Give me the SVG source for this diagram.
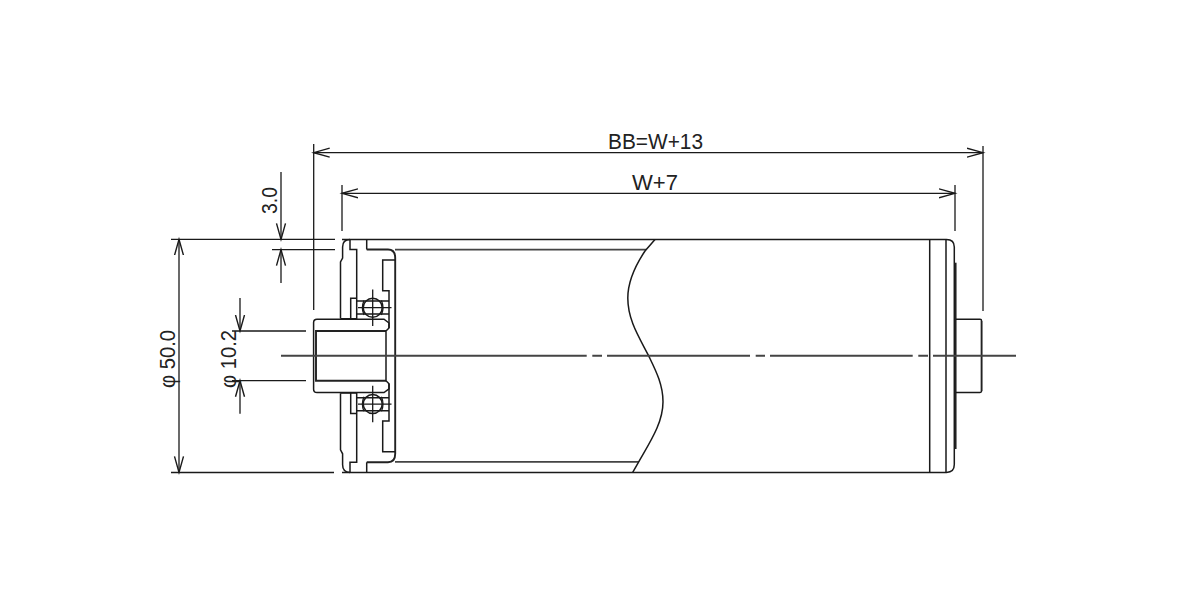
<svg xmlns="http://www.w3.org/2000/svg" width="1200" height="600" viewBox="0 0 1200 600">
<style>
.l{fill:none;stroke:#1a1a1a;stroke-width:1.5}
.h{fill:none;stroke:#222;stroke-width:1.9}
.c{fill:none;stroke:#444;stroke-width:1.9}
.d{fill:none;stroke:#1a1a1a;stroke-width:1.3}
text{font-family:"Liberation Sans",Arial,sans-serif;font-size:22px;fill:#222}
</style>
<defs>
<marker id="a" markerWidth="20" markerHeight="12" refX="16" refY="5" orient="auto-start-reverse" markerUnits="userSpaceOnUse" viewBox="0 0 20 10"><path d="M0 0.5L16 5L0 9.5" fill="none" stroke="#1a1a1a" stroke-width="1.4"/></marker>
<g id="half">
<path class="l" d="M350 239.4Q342.6 239.4 342.6 247L342.6 258L340.5 262L340.5 318.5"/>
<path class="l" d="M350 239.4V249.5H356.7V319"/>
<path class="l" d="M366.7 239.4V249.5"/>
<path class="h" d="M366.7 249.5H388Q395.2 249.5 395.2 258V355.9"/>
<path class="l" d="M395.2 260H382.7V290.7H389V328"/>
<path class="l" d="M340.5 318.8H356.7M350.7 319V298.3H356.7"/>
<path class="l" d="M356.7 301H389M356.7 314H389"/>
<circle class="l" cx="372.7" cy="307.7" r="9.5"/>
<path class="d" d="M372.7 289.5V326M358 307.7H391.5"/>
<path class="d" d="M364 300.5Q360.8 307.7 364 315M381.4 300.5Q384.6 307.7 381.4 315"/>
<path class="h" d="M316 355.9V331H386"/>
<path class="l" d="M313.6 355.9V322.5Q313.6 319.2 317 319.2H384L389 323V328L386 331V355.9"/>
</g>
</defs>
<g id="roller">
<use href="#half"/>
<use href="#half" transform="matrix(1 0 0 -1 0 711.8)"/>
<path class="l" d="M342 239.4H946.5Q954.3 239.4 954.3 247V464.6Q954.3 472.4 946.5 472.4H342"/>
<path class="c" d="M395 249.6H646M395 461.9H639"/>
<path class="l" d="M655 239.4L645 251C637 263 627.8 279 627.8 298C627.8 320 639 337 648.7 355.9C655 369 663 384 663 401.7C663 423 650 442 638.7 461.9L632.7 472.4"/>
<path class="l" d="M929.7 239.4V472.4M946 239.4V472.4"/>
<path class="h" d="M955.6 262.7V449"/>
<path class="l" d="M956 319.3H980Q981.6 319.3 981.6 321M956 392.4H980Q981.6 392.4 981.6 391"/>
<path class="h" d="M981.6 321V391"/>
</g>
<g id="centerline"><path class="c" d="M281 355.8H1016" stroke-dasharray="305.7 5.6 9.7 5 143 5.7 9.3 5 142.7 5.6 9.7 5 83"/></g>
<g id="connectors">
<path class="d" d="M313.7 144V310M983 146V311M342 185V231M955 185V231"/>
<path class="d" d="M171 239.4H335M272 249.6H335M171 472.5H334M232 331H306M232 380.7H306"/>
<path class="d" d="M281 172V239.4" marker-end="url(#a)"/>
<path class="d" d="M281 283V249.6" marker-end="url(#a)"/>
<path class="d" d="M179 239.4V472.4" marker-start="url(#a)" marker-end="url(#a)"/>
<path class="d" d="M240 298V331" marker-end="url(#a)"/>
<path class="d" d="M240 413.7V380.7" marker-end="url(#a)"/>
<path class="d" d="M313.7 152.7H983" marker-start="url(#a)" marker-end="url(#a)"/>
<path class="d" d="M342 193.3H955" marker-start="url(#a)" marker-end="url(#a)"/>
</g>
<g id="labels">
<text x="608" y="149" textLength="95" lengthAdjust="spacingAndGlyphs">BB=W+13</text>
<text x="632" y="190" textLength="46" lengthAdjust="spacingAndGlyphs">W+7</text>
<text transform="translate(277 214) rotate(-90)" textLength="27" lengthAdjust="spacingAndGlyphs">3.0</text>
<text transform="translate(175 388) rotate(-90)" textLength="58" lengthAdjust="spacingAndGlyphs">φ 50.0</text>
<text transform="translate(236 388) rotate(-90)" textLength="58" lengthAdjust="spacingAndGlyphs">φ 10.2</text>
</g>
</svg>
